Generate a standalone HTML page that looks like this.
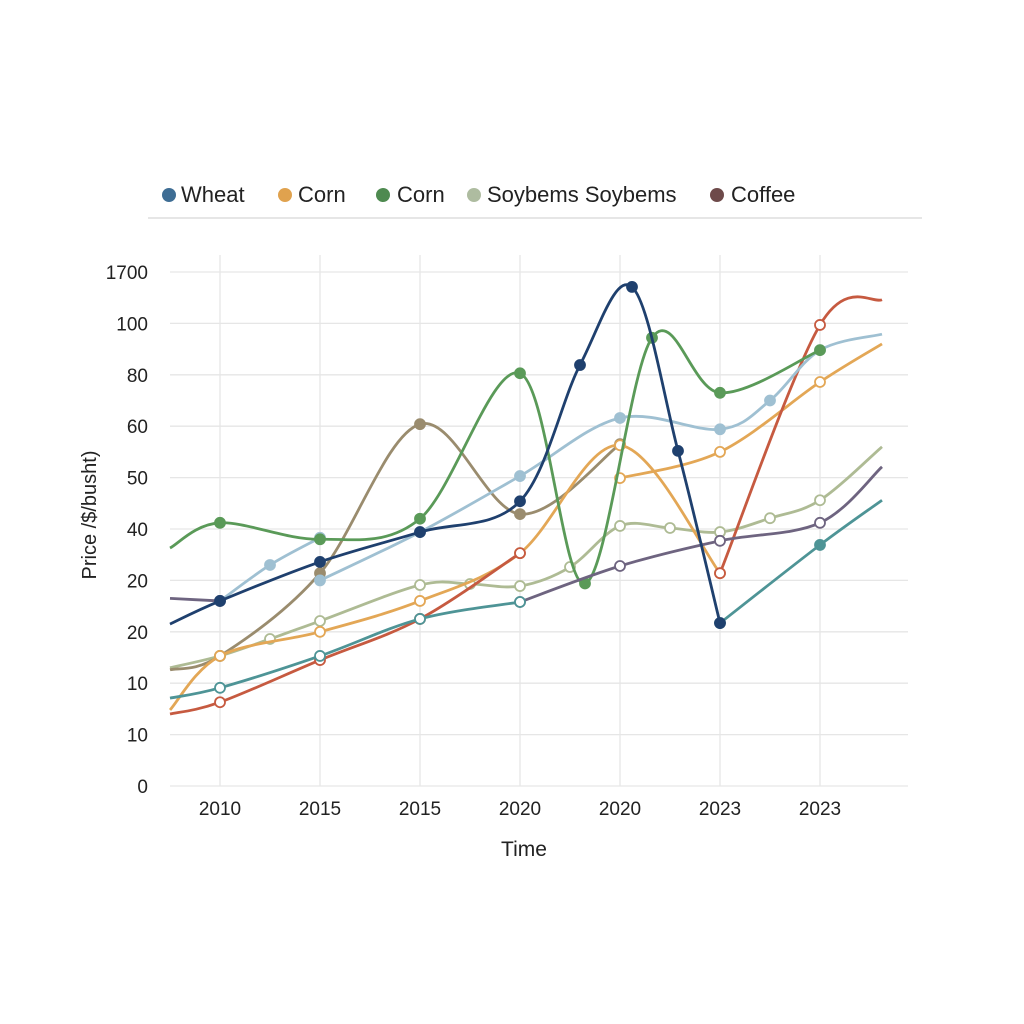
<!DOCTYPE html>
<html><head><meta charset="utf-8"><style>
body{margin:0;background:#fff;}
svg{display:block;font-family:"Liberation Sans",sans-serif;}
</style></head><body>
<svg id="chart" width="1024" height="1024" viewBox="0 0 1024 1024">
<g id="grid"></g>
<g id="legend">
<line x1="148" y1="218" x2="922" y2="218" stroke="#ddd" stroke-width="1.5"/>
<circle cx="169" cy="195" r="7" fill="#3e6d94"/><text x="181" y="202" font-size="22" fill="#222">Wheat</text>
<circle cx="285" cy="195" r="7" fill="#e0a24e"/><text x="298" y="202" font-size="22" fill="#222">Corn</text>
<circle cx="383" cy="195" r="7" fill="#4e8a50"/><text x="397" y="202" font-size="22" fill="#222">Corn</text>
<circle cx="474" cy="195" r="7" fill="#aebca0"/><text x="487" y="202" font-size="22" fill="#222">Soybems Soybems</text>
<circle cx="717" cy="195" r="7" fill="#6e4a4a"/><text x="731" y="202" font-size="22" fill="#222">Coffee</text>
</g>
<g id="series"></g>
<text x="524" y="856" font-size="21" text-anchor="middle" fill="#222">Time</text>
<text transform="translate(96,515) rotate(-90)" font-size="20" text-anchor="middle" fill="#222">Price /$/busht)</text>
</svg>
<script>
const yTickLabels=["0","10","10","20","20","40","50","60","80","100","1700"];
const xTickLabels=["2010","2015","2015","2020","2020","2023","2023"];
const navyX=[-0.5,0,1,2,3,3.6,4.12,4.58,5];
const navyY=[3.15,3.6,4.36,4.94,5.54,8.19,9.71,6.52,3.17];
const tealX=[-0.5,0,1,2,3];
const tealY=[1.71,1.91,2.53,3.25,3.58];
const teal2X=[5,6,6.62];
const teal2Y=[3.17,4.69,5.56];
const redX=[-0.5,0,1,2,3];
const redY=[1.40,1.63,2.45,3.25,4.53];
const red2X=[5,6,6.62];
const red2Y=[4.14,8.97,9.46];
const orangeX=[-0.5,0,1,2,3,4,5];
const orangeY=[1.48,2.53,3.0,3.6,4.53,6.63,4.14];
const orange2X=[4,5,6,6.62];
const orange2Y=[5.99,6.5,7.86,8.6];
const blueX=[0,0.5,1];
const blueY=[3.6,4.3,4.83];
const blue2X=[1,2,3,4,5,5.5,6,6.62];
const blue2Y=[4.0,4.94,6.03,7.16,6.94,7.5,8.48,8.79];
const greenX=[-0.5,0,1,2,3,3.65,4.32,5,6];
const greenY=[4.63,5.12,4.8,5.2,8.03,3.94,8.72,7.65,8.48];
const tanX=[-0.5,0,1,2,3,4];
const tanY=[2.26,2.53,4.14,7.04,5.29,6.65];
const sageX=[-0.5,0,0.5,1,2,2.5,3,3.5,4,4.5,5,5.5,6,6.62];
const sageY=[2.30,2.53,2.86,3.21,3.91,3.93,3.89,4.26,5.06,5.02,4.94,5.21,5.56,6.6];
const purpleX=[-0.5,0];
const purpleY=[3.65,3.6];
const purple2X=[3,4,5,6,6.62];
const purple2Y=[3.58,4.28,4.77,5.12,6.21];

const NS="http://www.w3.org/2000/svg";
const sx=v=>220+v*100;
const sy=v=>786-v*51.4;
const grid=document.getElementById('grid');
const ser=document.getElementById('series');
function mk(tag,attrs,parent){const e=document.createElementNS(NS,tag);for(const k in attrs)e.setAttribute(k,attrs[k]);parent.appendChild(e);return e;}
yTickLabels.forEach((t,i)=>{
  const l=mk('line',{x1:170,x2:908,y1:sy(i),y2:sy(i),stroke:'#e6e6e6','stroke-width':1.3},grid);
  
  
  const tx=mk('text',{x:148,y:sy(i)+7,'font-size':19,'text-anchor':'end',fill:'#222'},grid);
  tx.textContent=t;
  
  
});
xTickLabels.forEach((t,i)=>{
  const l=mk('line',{x1:sx(i),x2:sx(i),y1:255,y2:786,stroke:'#e6e6e6','stroke-width':1.3},grid);
  
  
  const tx=mk('text',{x:sx(i),y:815,'font-size':19,'text-anchor':'middle',fill:'#222'},grid);
  tx.textContent=t;
  
  
});
function path(xs,ys){
  const p=xs.map((x,i)=>[sx(x),sy(ys[i])]);
  let d='M'+p[0][0]+','+p[0][1];
  for(let i=0;i<p.length-1;i++){
    const p0=p[i-1]||p[i],p1=p[i],p2=p[i+1],p3=p[i+2]||p2;
    const c1=[p1[0]+(p2[0]-p0[0])/6,p1[1]+(p2[1]-p0[1])/6];
    const c2=[p2[0]-(p3[0]-p1[0])/6,p2[1]-(p3[1]-p1[1])/6];
    d+=` C${c1[0]},${c1[1]} ${c2[0]},${c2[1]} ${p2[0]},${p2[1]}`;
  }
  return d;
}
function draw(name,xs,ys,color,open){
  const pth=mk('path',{d:path(xs,ys),fill:'none',stroke:color,'stroke-width':2.8},ser);
  
  
  xs.forEach((x,i)=>{
    if(x<0||x>6.5)return;
    const c=mk('circle',{cx:sx(x),cy:sy(ys[i]),r:5,fill:open?'#fff':color,stroke:color,'stroke-width':1.8},ser);
    
    
  });
}
draw('sage',sageX,sageY,'#aebb94',true);
draw('tan',tanX,tanY,'#9a8c6e',false);
draw('orange',orangeX,orangeY,'#e3a756',true);
draw('orange-2',orange2X,orange2Y,'#e3a756',true);
draw('red',redX,redY,'#c65a40',true);
draw('red-2',red2X,red2Y,'#c65a40',true);
draw('light-blue',blueX,blueY,'#9fc0d2',false);
draw('light-blue-2',blue2X,blue2Y,'#9fc0d2',false);
draw('green',greenX,greenY,'#5a9a58',false);
draw('purple',purpleX,purpleY,'#6e6480',false);
draw('purple-2',purple2X,purple2Y,'#6e6480',true);
draw('teal',tealX,tealY,'#4e9496',true);
draw('teal-2',teal2X,teal2Y,'#4e9496',false);
draw('wheat',navyX,navyY,'#1f406e',false);
</script>
</body></html>
